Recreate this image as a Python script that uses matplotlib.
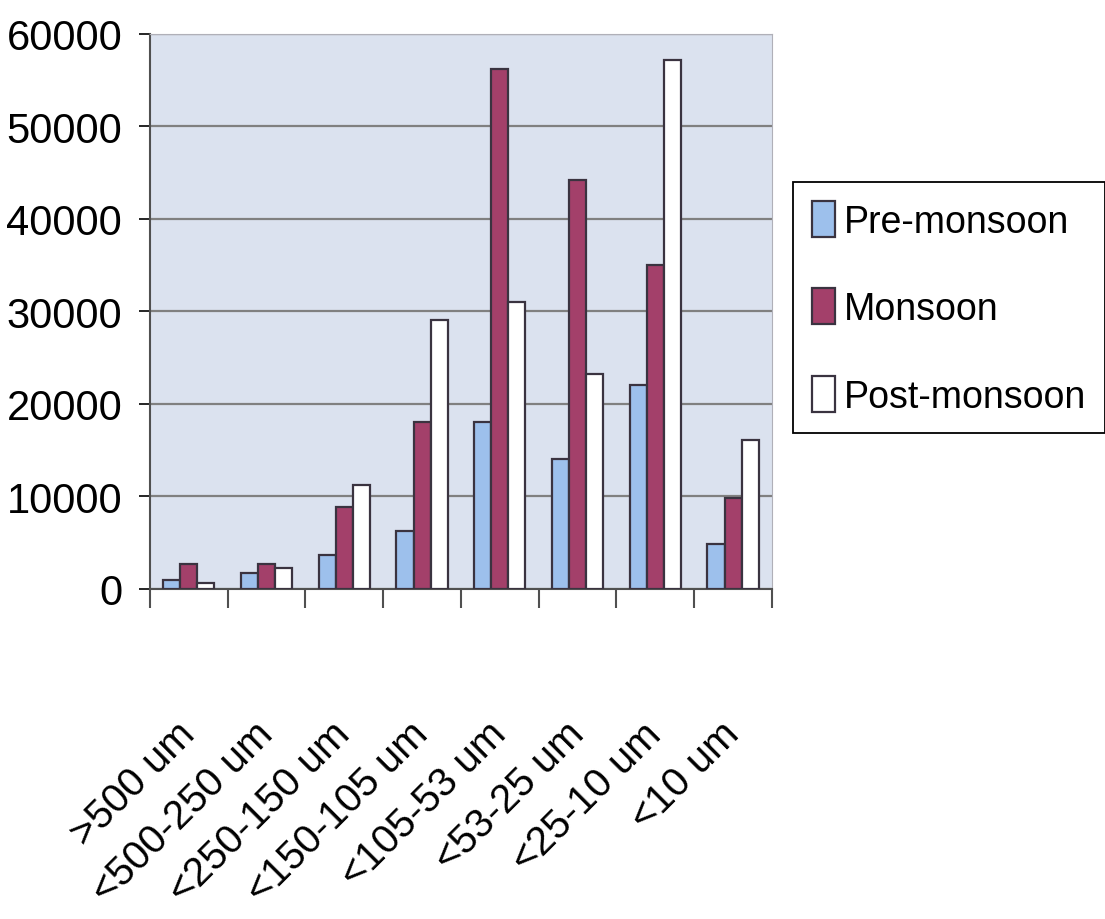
import numpy as np
import matplotlib
matplotlib.use('Agg')
import matplotlib.pyplot as plt

plt.rcParams['font.family'] = ['Liberation Sans', 'DejaVu Sans']

# data
categories = ['>500 um', '<500-250 um', '<250-150 um', '<150-105 um',
              '<105-53 um', '<53-25 um', '<25-10 um', '<10 um']
pre_monsoon = [1000, 1700, 3700, 6300, 18000, 14000, 22000, 4900]
monsoon = [2700, 2700, 8900, 18000, 56200, 44200, 35000, 9800]
post_monsoon = [700, 2300, 11200, 29100, 31000, 23200, 57200, 16100]
series_names = ['Pre-monsoon', 'Monsoon', 'Post-monsoon']
colors = ['#9dc0ec', '#a3406a', '#ffffff']

fig = plt.figure(figsize=(11.05, 9.2), dpi=100)
ax = fig.add_axes([0.1357, 0.3587, 0.5629, 0.6033])
ax.set_facecolor('#dbe2ef')

x = np.arange(len(categories))
w = 0.22
for k, (vals, name, c) in enumerate(zip([pre_monsoon, monsoon, post_monsoon], series_names, colors)):
    ax.bar(x + (k - 1) * w, vals, w, color=c, edgecolor='#3a3340', linewidth=1.6,
           label=name, zorder=3)

ax.set_xlim(-0.5, len(categories) - 0.5)
ax.set_ylim(0, 60000)
ax.set_yticks(np.arange(0, 60001, 10000))
ax.grid(axis='y', color='#808080', linewidth=1.6, zorder=1)
ax.tick_params(axis='y', labelsize=30, length=8, width=1.2, direction='out', pad=12)

# boundary ticks on x, labels at the category centres
ax.set_xticks(np.arange(-0.5, len(categories)), labels=[''] * (len(categories) + 1))
ax.tick_params(axis='x', which='major', length=14, width=1.5, color='#505050')
ax.set_xticks(x, labels=categories, minor=True)
ax.tick_params(axis='x', which='minor', length=0, pad=100, labelsize=29)
for lab in ax.get_xticklabels(minor=True):
    lab.set_rotation(45)
    lab.set_ha('right')
    lab.set_va('center')
    lab.set_rotation_mode('anchor')

for s in ['top', 'right']:
    ax.spines[s].set_color('#b0b0b8')
ax.spines['left'].set_color('#505050')
ax.spines['bottom'].set_color('#505050')
ax.spines['left'].set_linewidth(1.5)
ax.spines['bottom'].set_linewidth(1.5)

leg = fig.legend(loc='upper left', bbox_to_anchor=(0.718, 0.801), fontsize=27,
                 frameon=True, fancybox=False, edgecolor='black', framealpha=1,
                 handlelength=0.6, handleheight=1.1, handletextpad=0.25,
                 labelspacing=1.3, borderpad=0.5, borderaxespad=0)
leg.get_frame().set_linewidth(1.3)

fig.savefig('out.png', dpi=100)
